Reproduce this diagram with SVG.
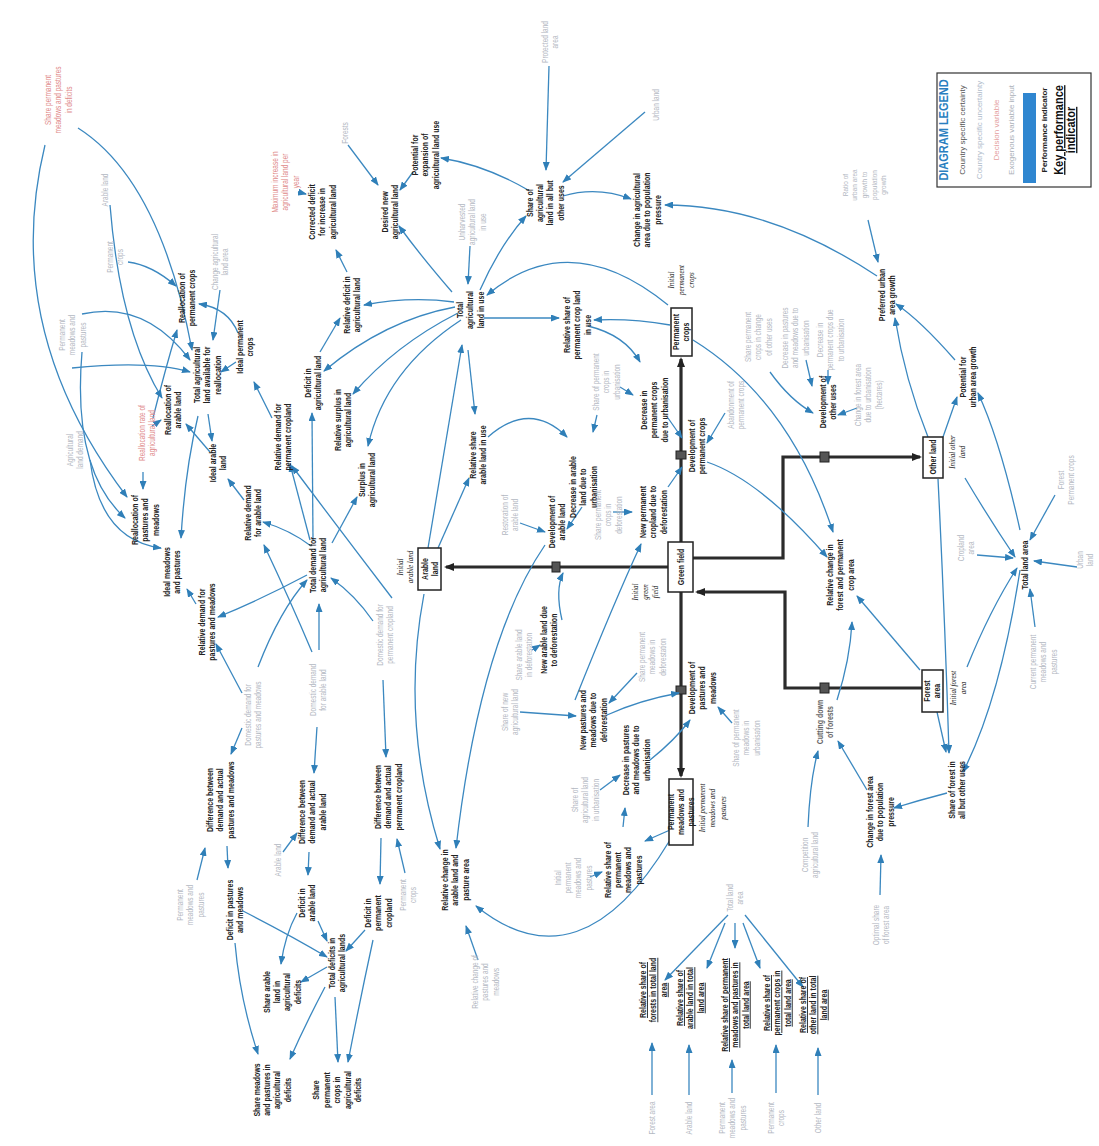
<svg xmlns="http://www.w3.org/2000/svg" width="1099" height="1146" viewBox="0 0 1099 1146">
<style>
text{text-anchor:middle;font-family:"Liberation Sans",Arial,sans-serif}
.b{font-size:7px;font-weight:bold;fill:#222}
.g{font-size:6.5px;fill:#b3b8c2}
.r{font-size:6.5px;fill:#e08a8a}
.i{font-size:7px;font-style:italic;font-family:"Liberation Serif",serif;fill:#222}
.k{font-size:7px;font-weight:bold;fill:#222;text-decoration:underline}
.c{fill:none;stroke:#3b88c0;stroke-width:1.3;marker-end:url(#a)}
.s{fill:none;stroke:#2b2b2b;stroke-width:3.2}
.sa{marker-end:url(#ab)}
.box{fill:#fff;stroke:#222;stroke-width:1.5}
.v{fill:#555;stroke:#222;stroke-width:1}
</style>
<defs>
<marker id="a" markerUnits="userSpaceOnUse" markerWidth="9" markerHeight="7" refX="8" refY="3.5" orient="auto"><path d="M0,0 L9,3.5 L0,7 z" fill="#2f7fb8"/></marker>
<marker id="ab" markerUnits="userSpaceOnUse" markerWidth="10" markerHeight="8" refX="8" refY="4" orient="auto"><path d="M0,0 L10,4 L0,8 z" fill="#222"/></marker>
</defs>
<rect width="1099" height="1146" fill="#fff"/>

<g id="flows">
<path class="s sa" d="M668 567 L446 567"/>
<path class="s sa" d="M681 542 L681 359"/>
<path class="s sa" d="M681 592 L681 776"/>
<path class="s sa" d="M693 558 L783 558 L783 457 L920 457"/>
<path class="s sa" d="M922 688 L785 688 L785 592 L697 592"/>
<rect class="v" x="552" y="562" width="8" height="10"/>
<rect class="v" x="676" y="451" width="10" height="8"/>
<rect class="v" x="676" y="686" width="10" height="8"/>
<rect class="v" x="820" y="452" width="9" height="10"/>
<rect class="v" x="820" y="683" width="9" height="10"/>
</g>

<g id="connectors">
<path class="c" d="M528 190 Q485 165 441 158"/>
<path class="c" d="M413 172 L400 190"/>
<path class="c" d="M452 292 Q420 255 399 226"/>
<path class="c" d="M470 246 L468 284"/>
<path class="c" d="M480 290 Q500 245 526 216"/>
<path class="c" d="M549 66 L546 170"/>
<path class="c" d="M645 112 L563 182"/>
<path class="c" d="M563 196 Q597 186 631 199"/>
<path class="c" d="M877 276 Q770 205 665 205"/>
<path class="c" d="M348 145 L378 185"/>
<path class="c" d="M298 192 L306 194"/>
<path class="c" d="M347 272 L336 250"/>
<path class="c" d="M454 302 Q410 296 364 305"/>
<path class="c" d="M455 307 Q385 320 324 371"/>
<path class="c" d="M458 313 Q395 345 353 394"/>
<path class="c" d="M461 320 Q385 370 368 446"/>
<path class="c" d="M320 352 L340 318"/>
<path class="c" d="M313 540 L312 413"/>
<path class="c" d="M332 543 L357 497"/>
<path class="c" d="M311 546 Q290 530 263 522"/>
<path class="c" d="M310 540 L290 464"/>
<path class="c" d="M272 418 L254 382"/>
<path class="c" d="M244 500 L228 479"/>
<path class="c" d="M196 604 L187 589"/>
<path class="c" d="M307 575 Q260 600 218 617"/>
<path class="c" d="M242 693 L216 644"/>
<path class="c" d="M258 667 Q280 610 307 580"/>
<path class="c" d="M319 650 L319 604"/>
<path class="c" d="M373 621 Q355 595 331 578"/>
<path class="c" d="M312 652 Q290 600 264 545"/>
<path class="c" d="M392 598 Q340 530 292 466"/>
<path class="c" d="M242 728 L231 754"/>
<path class="c" d="M317 727 L314 773"/>
<path class="c" d="M383 680 L386 757"/>
<path class="c" d="M283 852 L297 833"/>
<path class="c" d="M197 880 L205 848"/>
<path class="c" d="M227 846 L228 868"/>
<path class="c" d="M309 852 L308 875"/>
<path class="c" d="M381 838 L380 884"/>
<path class="c" d="M405 873 L397 839"/>
<path class="c" d="M243 911 Q290 935 327 957"/>
<path class="c" d="M318 921 L327 941"/>
<path class="c" d="M365 930 L346 951"/>
<path class="c" d="M297 913 Q285 935 281 964"/>
<path class="c" d="M327 967 L301 982"/>
<path class="c" d="M325 987 Q305 1025 290 1059"/>
<path class="c" d="M335 997 L338 1062"/>
<path class="c" d="M373 940 Q360 1000 348 1062"/>
<path class="c" d="M235 943 Q240 1000 258 1054"/>
<path class="c" d="M478 960 L466 926"/>
<path class="c" d="M670 840 Q580 990 476 906"/>
<path class="c" d="M424 594 Q400 720 440 849"/>
<path class="c" d="M545 545 Q480 640 456 848"/>
<path class="c" d="M428 548 L462 345"/>
<path class="c" d="M438 548 L469 478"/>
<path class="c" d="M468 350 L475 414"/>
<path class="c" d="M484 318 L559 318"/>
<path class="c" d="M670 325 Q630 318 594 320"/>
<path class="c" d="M668 305 Q570 225 487 295"/>
<path class="c" d="M488 437 Q530 400 567 437"/>
<path class="c" d="M597 415 L593 432"/>
<path class="c" d="M588 326 Q625 335 640 362"/>
<path class="c" d="M620 387 L633 395"/>
<path class="c" d="M668 418 L682 438"/>
<path class="c" d="M668 487 L682 467"/>
<path class="c" d="M725 413 L707 443"/>
<path class="c" d="M707 462 Q760 480 827 557"/>
<path class="c" d="M693 340 Q790 400 833 532"/>
<path class="c" d="M806 360 L812 386"/>
<path class="c" d="M828 370 L828 384"/>
<path class="c" d="M770 372 Q790 400 813 413"/>
<path class="c" d="M857 408 L838 415"/>
<path class="c" d="M868 220 L878 262"/>
<path class="c" d="M928 437 Q905 380 895 318"/>
<path class="c" d="M955 360 Q920 320 896 304"/>
<path class="c" d="M943 437 L957 397"/>
<path class="c" d="M1020 530 Q1000 440 978 393"/>
<path class="c" d="M965 478 Q990 520 1015 557"/>
<path class="c" d="M977 555 L1013 558"/>
<path class="c" d="M1055 495 L1030 540"/>
<path class="c" d="M1077 567 L1034 561"/>
<path class="c" d="M1035 627 L1030 589"/>
<path class="c" d="M1020 570 Q1000 700 963 772"/>
<path class="c" d="M967 667 Q990 610 1017 568"/>
<path class="c" d="M938 479 Q945 620 949 753"/>
<path class="c" d="M937 712 L946 752"/>
<path class="c" d="M947 793 Q920 800 894 808"/>
<path class="c" d="M867 790 L838 741"/>
<path class="c" d="M808 827 Q810 780 818 751"/>
<path class="c" d="M837 700 Q850 660 852 622"/>
<path class="c" d="M920 670 L857 596"/>
<path class="c" d="M880 895 L881 855"/>
<path class="c" d="M637 673 L609 703"/>
<path class="c" d="M607 715 Q640 700 679 693"/>
<path class="c" d="M650 760 Q675 740 690 720"/>
<path class="c" d="M732 723 L718 707"/>
<path class="c" d="M600 790 L620 775"/>
<path class="c" d="M623 827 L625 808"/>
<path class="c" d="M670 830 L645 841"/>
<path class="c" d="M590 877 L602 872"/>
<path class="c" d="M562 620 Q555 590 563 573"/>
<path class="c" d="M582 507 L567 529"/>
<path class="c" d="M520 523 L545 532"/>
<path class="c" d="M575 700 Q615 600 641 544"/>
<path class="c" d="M613 512 L632 512"/>
<path class="c" d="M532 650 L540 645"/>
<path class="c" d="M520 712 L576 716"/>
<path class="c" d="M728 915 L665 980"/>
<path class="c" d="M725 923 L707 968"/>
<path class="c" d="M735 923 L735 948"/>
<path class="c" d="M743 923 L760 968"/>
<path class="c" d="M745 915 L803 987"/>
<path class="c" d="M652 1095 L652 1043"/>
<path class="c" d="M689 1095 L689 1045"/>
<path class="c" d="M732 1093 L732 1060"/>
<path class="c" d="M776 1093 L776 1045"/>
<path class="c" d="M818 1095 L818 1048"/>
<!-- left side -->
<path class="c" d="M128 262 Q152 265 176 286"/>
<path class="c" d="M220 290 L213 340"/>
<path class="c" d="M238 333 Q228 308 199 304"/>
<path class="c" d="M236 362 L221 372"/>
<path class="c" d="M208 414 L212 441"/>
<path class="c" d="M210 452 L186 424"/>
<path class="c" d="M198 416 Q185 470 181 538"/>
<path class="c" d="M153 418 Q165 370 177 330"/>
<path class="c" d="M152 426 L161 420"/>
<path class="c" d="M143 472 L143 489"/>
<path class="c" d="M78 128 Q160 180 192 350"/>
<path class="c" d="M45 145 Q0 330 127 497"/>
<path class="c" d="M110 205 Q120 330 162 398"/>
<path class="c" d="M82 352 Q72 470 125 518"/>
<path class="c" d="M82 314 Q145 300 190 360"/>
<path class="c" d="M72 368 Q150 360 190 372"/>
<path class="c" d="M90 460 Q100 540 161 548"/>
</g>

<g id="s-green"><rect class="box" x="668" y="542" width="25" height="50"/><g transform="translate(681 567) rotate(-90) scale(1 1.3)"><text class="b"><tspan x="0" y="2.5">Green field</tspan></text></g></g>
<g id="s-arable"><rect class="box" x="418" y="548" width="23" height="42"/><g transform="translate(430 569) rotate(-90) scale(1 1.3)"><text class="b"><tspan x="0" y="-1.5">Arable</tspan><tspan x="0" y="6.5">land</tspan></text></g></g>
<g id="s-perm"><rect class="box" x="671" y="308" width="21" height="48"/><g transform="translate(681 332) rotate(-90) scale(1 1.2)"><text class="b"><tspan x="0" y="-1.5">Permanent</tspan><tspan x="0" y="6.5">crops</tspan></text></g></g>
<g id="s-past"><rect class="box" x="669" y="779" width="24" height="66"/><g transform="translate(681 812) rotate(-90) scale(1 1.2)"><text class="b"><tspan x="0" y="-5.5">Permanent</tspan><tspan x="0" y="2.5">meadows and</tspan><tspan x="0" y="10.5">pastures</tspan></text></g></g>
<g id="s-other"><rect class="box" x="923" y="437" width="20" height="41"/><g transform="translate(933 457) rotate(-90) scale(1 1.3)"><text class="b"><tspan x="0" y="2.5">Other land</tspan></text></g></g>
<g id="s-forest"><rect class="box" x="922" y="670" width="21" height="42"/><g transform="translate(932 691) rotate(-90) scale(1 1.2)"><text class="b"><tspan x="0" y="-1.5">Forest</tspan><tspan x="0" y="6.5">area</tspan></text></g></g>

<g id="i-arable" transform="translate(405 567) rotate(-90) scale(1 1.3)"><text class="i"><tspan x="0" y="-1.5">Initial</tspan><tspan x="0" y="6.5">arable land</tspan></text></g>
<g id="i-green" transform="translate(645 592) rotate(-90) scale(1 1.2)"><text class="i"><tspan x="0" y="-5.5">Initial</tspan><tspan x="0" y="2.5">green</tspan><tspan x="0" y="10.5">field</tspan></text></g>
<g id="i-perm" transform="translate(681 280) rotate(-90) scale(1 1.2)"><text class="i"><tspan x="0" y="-5.5">Initial</tspan><tspan x="0" y="2.5">permanent</tspan><tspan x="0" y="10.5">crops</tspan></text></g>
<g id="i-past" transform="translate(712 808) rotate(-90) scale(1 1.3)"><text class="i"><tspan x="0" y="-5.5">Initial permanent</tspan><tspan x="0" y="2.5">meadows and</tspan><tspan x="0" y="10.5">pastures</tspan></text></g>
<g id="i-other" transform="translate(957 452) rotate(-90) scale(1 1.3)"><text class="i"><tspan x="0" y="-1.5">Initial other</tspan><tspan x="0" y="6.5">land</tspan></text></g>
<g id="i-forest" transform="translate(958 688) rotate(-90) scale(1 1.3)"><text class="i"><tspan x="0" y="-1.5">Initial forest</tspan><tspan x="0" y="6.5">area</tspan></text></g>

<g id="n-pot-exp" transform="translate(425 155) rotate(-90) scale(1 1.3)"><text class="b"><tspan x="0" y="-5.5">Potential for</tspan><tspan x="0" y="2.5">expansion of</tspan><tspan x="0" y="10.5">agricultural land use</tspan></text></g>
<g id="n-desired" transform="translate(390 212) rotate(-90) scale(1 1.3)"><text class="b"><tspan x="0" y="-1.5">Desired new</tspan><tspan x="0" y="6.5">agricultural land</tspan></text></g>
<g id="n-corrected" transform="translate(322 212) rotate(-90) scale(1 1.3)"><text class="b"><tspan x="0" y="-5.5">Corrected deficit</tspan><tspan x="0" y="2.5">for increase in</tspan><tspan x="0" y="10.5">agricultural land</tspan></text></g>
<g id="n-share-agri" transform="translate(545 203) rotate(-90) scale(1 1.3)"><text class="b"><tspan x="0" y="-9.5">Share of</tspan><tspan x="0" y="-1.5">agricultural</tspan><tspan x="0" y="6.5">land in all but</tspan><tspan x="0" y="14.5">other uses</tspan></text></g>
<g id="n-change-agri" transform="translate(647 210) rotate(-90) scale(1 1.3)"><text class="b"><tspan x="0" y="-5.5">Change in agricultural</tspan><tspan x="0" y="2.5">area due to population</tspan><tspan x="0" y="10.5">pressure</tspan></text></g>
<g id="n-total-agri" transform="translate(470 310) rotate(-90) scale(1 1.3)"><text class="b"><tspan x="0" y="-5.5">Total</tspan><tspan x="0" y="2.5">agricultural</tspan><tspan x="0" y="10.5">land in use</tspan></text></g>
<g id="n-rel-share-perm" transform="translate(577 325) rotate(-90) scale(1 1.3)"><text class="b"><tspan x="0" y="-5.5">Relative share of</tspan><tspan x="0" y="2.5">permanent crop land</tspan><tspan x="0" y="10.5">in use</tspan></text></g>
<g id="n-rel-share-arable" transform="translate(478 455) rotate(-90) scale(1 1.3)"><text class="b"><tspan x="0" y="-1.5">Relative share</tspan><tspan x="0" y="6.5">arable land in use</tspan></text></g>
<g id="n-decr-arable" transform="translate(583 487) rotate(-90) scale(1 1.3)"><text class="b"><tspan x="0" y="-5.5">Decrease in arable</tspan><tspan x="0" y="2.5">land due to</tspan><tspan x="0" y="10.5">urbanisation</tspan></text></g>
<g id="n-dev-arable" transform="translate(557 522) rotate(-90) scale(1 1.3)"><text class="b"><tspan x="0" y="-1.5">Development of</tspan><tspan x="0" y="6.5">arable land</tspan></text></g>
<g id="n-decr-perm" transform="translate(654 410) rotate(-90) scale(1 1.3)"><text class="b"><tspan x="0" y="-5.5">Decrease in</tspan><tspan x="0" y="2.5">permanent crops</tspan><tspan x="0" y="10.5">due to urbanisation</tspan></text></g>
<g id="n-dev-perm" transform="translate(697 446) rotate(-90) scale(1 1.3)"><text class="b"><tspan x="0" y="-1.5">Development of</tspan><tspan x="0" y="6.5">permanent crops</tspan></text></g>
<g id="n-new-perm" transform="translate(653 512) rotate(-90) scale(1 1.3)"><text class="b"><tspan x="0" y="-5.5">New permanent</tspan><tspan x="0" y="2.5">cropland due to</tspan><tspan x="0" y="10.5">deforestation</tspan></text></g>
<g id="n-dev-other" transform="translate(828 402) rotate(-90) scale(1 1.3)"><text class="b"><tspan x="0" y="-1.5">Development of</tspan><tspan x="0" y="6.5">other uses</tspan></text></g>
<g id="n-pref-urban" transform="translate(887 295) rotate(-90) scale(1 1.3)"><text class="b"><tspan x="0" y="-1.5">Preferred urban</tspan><tspan x="0" y="6.5">area growth</tspan></text></g>
<g id="n-pot-urban" transform="translate(968 377) rotate(-90) scale(1 1.3)"><text class="b"><tspan x="0" y="-1.5">Potential for</tspan><tspan x="0" y="6.5">urban area growth</tspan></text></g>
<g id="n-total-land" transform="translate(1025 565) rotate(-90) scale(1 1.3)"><text class="b"><tspan x="0" y="2.5">Total land area</tspan></text></g>
<g id="n-rel-change-forest" transform="translate(840 575) rotate(-90) scale(1 1.3)"><text class="b"><tspan x="0" y="-5.5">Relative change in</tspan><tspan x="0" y="2.5">forest and permanent</tspan><tspan x="0" y="10.5">crop area</tspan></text></g>
<g id="n-cutting" transform="translate(825 722) rotate(-90) scale(1 1.3)"><text class="b" style="fill:#666"><tspan x="0" y="-1.5">Cutting down</tspan><tspan x="0" y="6.5">of forests</tspan></text></g>
<g id="n-share-forest" transform="translate(957 790) rotate(-90) scale(1 1.3)"><text class="b"><tspan x="0" y="-1.5">Share of forest in</tspan><tspan x="0" y="6.5">all but other uses</tspan></text></g>
<g id="n-change-forest" transform="translate(880 812) rotate(-90) scale(1 1.3)"><text class="b"><tspan x="0" y="-5.5">Change in forest area</tspan><tspan x="0" y="2.5">due to population</tspan><tspan x="0" y="10.5">pressure</tspan></text></g>
<g id="n-dev-past" transform="translate(702 688) rotate(-90) scale(1 1.3)"><text class="b"><tspan x="0" y="-5.5">Development of</tspan><tspan x="0" y="2.5">pastures and</tspan><tspan x="0" y="10.5">meadows</tspan></text></g>
<g id="n-decr-past" transform="translate(636 760) rotate(-90) scale(1 1.3)"><text class="b"><tspan x="0" y="-5.5">Decrease in pastures</tspan><tspan x="0" y="2.5">and meadows due to</tspan><tspan x="0" y="10.5">urbanisation</tspan></text></g>
<g id="n-new-past" transform="translate(593 720) rotate(-90) scale(1 1.3)"><text class="b"><tspan x="0" y="-5.5">New pastures and</tspan><tspan x="0" y="2.5">meadows due to</tspan><tspan x="0" y="10.5">deforestation</tspan></text></g>
<g id="n-new-arable" transform="translate(549 640) rotate(-90) scale(1 1.3)"><text class="b"><tspan x="0" y="-1.5">New arable land due</tspan><tspan x="0" y="6.5">to deforestation</tspan></text></g>
<g id="n-rel-share-past" transform="translate(623 870) rotate(-90) scale(1 1.3)"><text class="b"><tspan x="0" y="-9.5">Relative share of</tspan><tspan x="0" y="-1.5">permanent</tspan><tspan x="0" y="6.5">meadows and</tspan><tspan x="0" y="14.5">pastures</tspan></text></g>
<g id="n-rel-change-arable" transform="translate(455 880) rotate(-90) scale(1 1.3)"><text class="b"><tspan x="0" y="-5.5">Relative change in</tspan><tspan x="0" y="2.5">arable land and</tspan><tspan x="0" y="10.5">pasture area</tspan></text></g>
<g id="n-def-past" transform="translate(235 910) rotate(-90) scale(1 1.3)"><text class="b"><tspan x="0" y="-1.5">Deficit in pastures</tspan><tspan x="0" y="6.5">and meadows</tspan></text></g>
<g id="n-def-arable" transform="translate(307 903) rotate(-90) scale(1 1.3)"><text class="b"><tspan x="0" y="-1.5">Deficit in</tspan><tspan x="0" y="6.5">arable land</tspan></text></g>
<g id="n-def-perm" transform="translate(378 913) rotate(-90) scale(1 1.3)"><text class="b"><tspan x="0" y="-5.5">Deficit in</tspan><tspan x="0" y="2.5">permanent</tspan><tspan x="0" y="10.5">cropland</tspan></text></g>
<g id="n-total-def" transform="translate(337 963) rotate(-90) scale(1 1.3)"><text class="b"><tspan x="0" y="-1.5">Total deficits in</tspan><tspan x="0" y="6.5">agricultural lands</tspan></text></g>
<g id="n-share-arable-def" transform="translate(282 992) rotate(-90) scale(1 1.3)"><text class="b"><tspan x="0" y="-9.5">Share arable</tspan><tspan x="0" y="-1.5">land in</tspan><tspan x="0" y="6.5">agricultural</tspan><tspan x="0" y="14.5">deficits</tspan></text></g>
<g id="n-share-past-def" transform="translate(272 1090) rotate(-90) scale(1 1.3)"><text class="b"><tspan x="0" y="-9.5">Share meadows</tspan><tspan x="0" y="-1.5">and pastures in</tspan><tspan x="0" y="6.5">agricultural</tspan><tspan x="0" y="14.5">deficits</tspan></text></g>
<g id="n-share-perm-def" transform="translate(337 1090) rotate(-90) scale(1 1.3)"><text class="b"><tspan x="0" y="-13.5">Share</tspan><tspan x="0" y="-5.5">permanent</tspan><tspan x="0" y="2.5">crops in</tspan><tspan x="0" y="10.5">agricultural</tspan><tspan x="0" y="18.5">deficits</tspan></text></g>
<g id="n-diff-past" transform="translate(220 800) rotate(-90) scale(1 1.3)"><text class="b"><tspan x="0" y="-5.5">Difference between</tspan><tspan x="0" y="2.5">demand and actual</tspan><tspan x="0" y="10.5">pastures and meadows</tspan></text></g>
<g id="n-diff-arable" transform="translate(312 812) rotate(-90) scale(1 1.3)"><text class="b"><tspan x="0" y="-5.5">Difference between</tspan><tspan x="0" y="2.5">demand and actual</tspan><tspan x="0" y="10.5">arable land</tspan></text></g>
<g id="n-diff-perm" transform="translate(388 797) rotate(-90) scale(1 1.3)"><text class="b"><tspan x="0" y="-5.5">Difference between</tspan><tspan x="0" y="2.5">demand and actual</tspan><tspan x="0" y="10.5">permanent cropland</tspan></text></g>
<g id="n-rel-dem-past" transform="translate(207 622) rotate(-90) scale(1 1.3)"><text class="b"><tspan x="0" y="-1.5">Relative demand for</tspan><tspan x="0" y="6.5">pastures and meadows</tspan></text></g>
<g id="n-ideal-past" transform="translate(172 572) rotate(-90) scale(1 1.3)"><text class="b"><tspan x="0" y="-1.5">Ideal meadows</tspan><tspan x="0" y="6.5">and pastures</tspan></text></g>
<g id="n-total-demand" transform="translate(318 565) rotate(-90) scale(1 1.3)"><text class="b"><tspan x="0" y="-1.5">Total demand for</tspan><tspan x="0" y="6.5">agricultural land</tspan></text></g>
<g id="n-rel-dem-arable" transform="translate(253 513) rotate(-90) scale(1 1.3)"><text class="b"><tspan x="0" y="-1.5">Relative demand</tspan><tspan x="0" y="6.5">for arable land</tspan></text></g>
<g id="n-rel-dem-perm" transform="translate(283 437) rotate(-90) scale(1 1.3)"><text class="b"><tspan x="0" y="-1.5">Relative demand for</tspan><tspan x="0" y="6.5">permanent cropland</tspan></text></g>
<g id="n-ideal-arable" transform="translate(218 463) rotate(-90) scale(1 1.3)"><text class="b"><tspan x="0" y="-1.5">Ideal arable</tspan><tspan x="0" y="6.5">land</tspan></text></g>
<g id="n-realloc-past" transform="translate(145 520) rotate(-90) scale(1 1.3)"><text class="b"><tspan x="0" y="-5.5">Reallocation of</tspan><tspan x="0" y="2.5">pastures and</tspan><tspan x="0" y="10.5">meadows</tspan></text></g>
<g id="n-realloc-arable" transform="translate(173 410) rotate(-90) scale(1 1.3)"><text class="b"><tspan x="0" y="-1.5">Reallocation of</tspan><tspan x="0" y="6.5">arable land</tspan></text></g>
<g id="n-total-avail" transform="translate(207 375) rotate(-90) scale(1 1.3)"><text class="b"><tspan x="0" y="-5.5">Total agricultural</tspan><tspan x="0" y="2.5">land available for</tspan><tspan x="0" y="10.5">reallocation</tspan></text></g>
<g id="n-ideal-perm" transform="translate(245 347) rotate(-90) scale(1 1.3)"><text class="b"><tspan x="0" y="-1.5">Ideal permanent</tspan><tspan x="0" y="6.5">crops</tspan></text></g>
<g id="n-realloc-perm" transform="translate(187 298) rotate(-90) scale(1 1.3)"><text class="b"><tspan x="0" y="-1.5">Reallocation of</tspan><tspan x="0" y="6.5">permanent crops</tspan></text></g>
<g id="n-def-agri" transform="translate(313 383) rotate(-90) scale(1 1.3)"><text class="b"><tspan x="0" y="-1.5">Deficit in</tspan><tspan x="0" y="6.5">agricultural land</tspan></text></g>
<g id="n-rel-def-agri" transform="translate(352 305) rotate(-90) scale(1 1.3)"><text class="b"><tspan x="0" y="-1.5">Relative deficit in</tspan><tspan x="0" y="6.5">agricultural land</tspan></text></g>
<g id="n-rel-surplus" transform="translate(343 420) rotate(-90) scale(1 1.3)"><text class="b"><tspan x="0" y="-1.5">Relative surplus in</tspan><tspan x="0" y="6.5">agricultural land</tspan></text></g>
<g id="n-surplus" transform="translate(367 480) rotate(-90) scale(1 1.3)"><text class="b"><tspan x="0" y="-1.5">Surplus in</tspan><tspan x="0" y="6.5">agricultural land</tspan></text></g>

<g id="k-forest" transform="translate(653 990) rotate(-90) scale(1 1.3)"><text class="k"><tspan x="0" y="-5.5">Relative share of</tspan><tspan x="0" y="2.5">forests in total land</tspan><tspan x="0" y="10.5">area</tspan></text></g>
<g id="k-arable" transform="translate(690 998) rotate(-90) scale(1 1.3)"><text class="k"><tspan x="0" y="-5.5">Relative share of</tspan><tspan x="0" y="2.5">arable land in total</tspan><tspan x="0" y="10.5">land area</tspan></text></g>
<g id="k-past" transform="translate(735 1005) rotate(-90) scale(1 1.3)"><text class="k"><tspan x="0" y="-5.5">Relative share of permanent</tspan><tspan x="0" y="2.5">meadows and pastures in</tspan><tspan x="0" y="10.5">total land area</tspan></text></g>
<g id="k-perm" transform="translate(777 1003) rotate(-90) scale(1 1.3)"><text class="k"><tspan x="0" y="-5.5">Relative share of</tspan><tspan x="0" y="2.5">permanent crops in</tspan><tspan x="0" y="10.5">total land area</tspan></text></g>
<g id="k-other" transform="translate(813 1005) rotate(-90) scale(1 1.3)"><text class="k"><tspan x="0" y="-5.5">Relative share of</tspan><tspan x="0" y="2.5">other land in total</tspan><tspan x="0" y="10.5">land area</tspan></text></g>

<g id="g-protected" transform="translate(550 42) rotate(-90) scale(1 1.3)"><text class="g"><tspan x="0" y="-1.5">Protected land</tspan><tspan x="0" y="6.5">area</tspan></text></g>
<g id="g-urban" transform="translate(656 105) rotate(-90) scale(1 1.3)"><text class="g"><tspan x="0" y="2.5">Urban land</tspan></text></g>
<g id="g-unharv" transform="translate(472 222) rotate(-90) scale(1 1.3)"><text class="g"><tspan x="0" y="-5.5">Unharvested</tspan><tspan x="0" y="2.5">agricultural land</tspan><tspan x="0" y="10.5">in use</tspan></text></g>
<g id="g-forests" transform="translate(345 133) rotate(-90) scale(1 1.3)"><text class="g"><tspan x="0" y="2.5">Forests</tspan></text></g>
<g id="g-share-perm-urb" transform="translate(606 382) rotate(-90) scale(1 1.3)"><text class="g"><tspan x="0" y="-5.5">Share of permanent</tspan><tspan x="0" y="2.5">crops in</tspan><tspan x="0" y="10.5">urbanisation</tspan></text></g>
<g id="g-restoration" transform="translate(510 515) rotate(-90) scale(1 1.3)"><text class="g"><tspan x="0" y="-1.5">Restoration of</tspan><tspan x="0" y="6.5">arable land</tspan></text></g>
<g id="g-share-perm-defor" transform="translate(608 515) rotate(-90) scale(1 1.3)"><text class="g"><tspan x="0" y="-5.5">Share permanent</tspan><tspan x="0" y="2.5">crops in</tspan><tspan x="0" y="10.5">deforestation</tspan></text></g>
<g id="g-share-arable-defor" transform="translate(524 655) rotate(-90) scale(1 1.3)"><text class="g"><tspan x="0" y="-1.5">Share arable land</tspan><tspan x="0" y="6.5">in deforestation</tspan></text></g>
<g id="g-share-new" transform="translate(510 712) rotate(-90) scale(1 1.3)"><text class="g"><tspan x="0" y="-1.5">Share of new</tspan><tspan x="0" y="6.5">agricultural land</tspan></text></g>
<g id="g-abandon" transform="translate(736 405) rotate(-90) scale(1 1.3)"><text class="g"><tspan x="0" y="-1.5">Abandonment of</tspan><tspan x="0" y="6.5">permanent crops</tspan></text></g>
<g id="g-share-other" transform="translate(758 337) rotate(-90) scale(1 1.3)"><text class="g"><tspan x="0" y="-5.5">Share permanent</tspan><tspan x="0" y="2.5">crops in change</tspan><tspan x="0" y="10.5">of other uses</tspan></text></g>
<g id="g-decr-past-urb" transform="translate(795 338) rotate(-90) scale(1 1.3)"><text class="g"><tspan x="0" y="-5.5">Decrease in pastures</tspan><tspan x="0" y="2.5">and meadows due to</tspan><tspan x="0" y="10.5">urbanisation</tspan></text></g>
<g id="g-decr-perm-urb" transform="translate(830 340) rotate(-90) scale(1 1.3)"><text class="g"><tspan x="0" y="-5.5">Decrease in</tspan><tspan x="0" y="2.5">permanent crops due</tspan><tspan x="0" y="10.5">to urbanisation</tspan></text></g>
<g id="g-forest-urb" transform="translate(868 395) rotate(-90) scale(1 1.3)"><text class="g"><tspan x="0" y="-5.5">Change in forest area</tspan><tspan x="0" y="2.5">due to urbanisation</tspan><tspan x="0" y="10.5">(hectares)</tspan></text></g>
<g id="g-ratio-urban" transform="translate(864 185) rotate(-90) scale(1 1.2)"><text class="g"><tspan x="0" y="-13.5">Ratio of</tspan><tspan x="0" y="-5.5">urban area</tspan><tspan x="0" y="2.5">growth to</tspan><tspan x="0" y="10.5">population</tspan><tspan x="0" y="18.5">growth</tspan></text></g>
<g id="g-cropland" transform="translate(966 548) rotate(-90) scale(1 1.3)"><text class="g"><tspan x="0" y="-1.5">Cropland</tspan><tspan x="0" y="6.5">area</tspan></text></g>
<g id="g-forest-perm" transform="translate(1066 480) rotate(-90) scale(1 1.3)"><text class="g"><tspan x="0" y="-1.5">Forest</tspan><tspan x="0" y="6.5">Permanent crops</tspan></text></g>
<g id="g-urban-land" transform="translate(1085 560) rotate(-90) scale(1 1.3)"><text class="g"><tspan x="0" y="-1.5">Urban</tspan><tspan x="0" y="6.5">land</tspan></text></g>
<g id="g-current-past" transform="translate(1043 662) rotate(-90) scale(1 1.3)"><text class="g"><tspan x="0" y="-5.5">Current permanent</tspan><tspan x="0" y="2.5">meadows and</tspan><tspan x="0" y="10.5">pastures</tspan></text></g>
<g id="g-competition" transform="translate(810 855) rotate(-90) scale(1 1.3)"><text class="g"><tspan x="0" y="-1.5">Competition</tspan><tspan x="0" y="6.5">agricultural land</tspan></text></g>
<g id="g-optimal-forest" transform="translate(881 925) rotate(-90) scale(1 1.3)"><text class="g"><tspan x="0" y="-1.5">Optimal share</tspan><tspan x="0" y="6.5">of forest area</tspan></text></g>
<g id="g-share-past-defor" transform="translate(652 657) rotate(-90) scale(1 1.3)"><text class="g"><tspan x="0" y="-5.5">Share permanent</tspan><tspan x="0" y="2.5">meadows in</tspan><tspan x="0" y="10.5">deforestation</tspan></text></g>
<g id="g-share-past-urb" transform="translate(746 738) rotate(-90) scale(1 1.3)"><text class="g"><tspan x="0" y="-5.5">Share of permanent</tspan><tspan x="0" y="2.5">meadows in</tspan><tspan x="0" y="10.5">urbanisation</tspan></text></g>
<g id="g-share-urb" transform="translate(585 800) rotate(-90) scale(1 1.3)"><text class="g"><tspan x="0" y="-5.5">Share of</tspan><tspan x="0" y="2.5">agricultural land</tspan><tspan x="0" y="10.5">in urbanisation</tspan></text></g>
<g id="g-init-past" transform="translate(573 878) rotate(-90) scale(1 1.3)"><text class="g"><tspan x="0" y="-9.5">Initial</tspan><tspan x="0" y="-1.5">permanent</tspan><tspan x="0" y="6.5">meadows and</tspan><tspan x="0" y="14.5">pastures</tspan></text></g>
<g id="g-total-land" transform="translate(735 898) rotate(-90) scale(1 1.3)"><text class="g"><tspan x="0" y="-1.5">Total land</tspan><tspan x="0" y="6.5">area</tspan></text></g>
<g id="g-b-forest" transform="translate(652 1118) rotate(-90) scale(1 1.3)"><text class="g"><tspan x="0" y="2.5">Forest area</tspan></text></g>
<g id="g-b-arable" transform="translate(689 1118) rotate(-90) scale(1 1.3)"><text class="g"><tspan x="0" y="2.5">Arable land</tspan></text></g>
<g id="g-b-past" transform="translate(732 1118) rotate(-90) scale(1 1.3)"><text class="g"><tspan x="0" y="-5.5">Permanent</tspan><tspan x="0" y="2.5">meadows and</tspan><tspan x="0" y="10.5">pastures</tspan></text></g>
<g id="g-b-perm" transform="translate(776 1118) rotate(-90) scale(1 1.3)"><text class="g"><tspan x="0" y="-1.5">Permanent</tspan><tspan x="0" y="6.5">crops</tspan></text></g>
<g id="g-b-other" transform="translate(818 1118) rotate(-90) scale(1 1.3)"><text class="g"><tspan x="0" y="2.5">Other land</tspan></text></g>
<g id="g-rel-change-past" transform="translate(485 982) rotate(-90) scale(1 1.3)"><text class="g"><tspan x="0" y="-5.5">Relative change of</tspan><tspan x="0" y="2.5">pastures and</tspan><tspan x="0" y="10.5">meadows</tspan></text></g>
<g id="g-perm-past" transform="translate(190 905) rotate(-90) scale(1 1.3)"><text class="g"><tspan x="0" y="-5.5">Permanent</tspan><tspan x="0" y="2.5">meadows and</tspan><tspan x="0" y="10.5">pastures</tspan></text></g>
<g id="g-arable-land" transform="translate(278 860) rotate(-90) scale(1 1.3)"><text class="g"><tspan x="0" y="2.5">Arable land</tspan></text></g>
<g id="g-perm-crops" transform="translate(408 895) rotate(-90) scale(1 1.3)"><text class="g"><tspan x="0" y="-1.5">Permanent</tspan><tspan x="0" y="6.5">crops</tspan></text></g>
<g id="g-dom-past" transform="translate(253 715) rotate(-90) scale(1 1.3)"><text class="g"><tspan x="0" y="-1.5">Domestic demand for</tspan><tspan x="0" y="6.5">pastures and meadows</tspan></text></g>
<g id="g-dom-arable" transform="translate(318 690) rotate(-90) scale(1 1.3)"><text class="g"><tspan x="0" y="-1.5">Domestic demand</tspan><tspan x="0" y="6.5">for arable land</tspan></text></g>
<g id="g-dom-perm" transform="translate(385 635) rotate(-90) scale(1 1.3)"><text class="g"><tspan x="0" y="-1.5">Domestic demand for</tspan><tspan x="0" y="6.5">permanent cropland</tspan></text></g>
<g id="g-perm-crops-left" transform="translate(115 257) rotate(-90) scale(1 1.3)"><text class="g"><tspan x="0" y="-1.5">Permanent</tspan><tspan x="0" y="6.5">crops</tspan></text></g>
<g id="g-change-agri" transform="translate(220 262) rotate(-90) scale(1 1.3)"><text class="g"><tspan x="0" y="-1.5">Change agricultural</tspan><tspan x="0" y="6.5">land area</tspan></text></g>
<g id="g-arable-left" transform="translate(105 190) rotate(-90) scale(1 1.3)"><text class="g"><tspan x="0" y="2.5">Arable land</tspan></text></g>
<g id="g-past-left" transform="translate(72 335) rotate(-90) scale(1 1.3)"><text class="g"><tspan x="0" y="-5.5">Permanent</tspan><tspan x="0" y="2.5">meadows and</tspan><tspan x="0" y="10.5">pastures</tspan></text></g>
<g id="g-left-low" transform="translate(75 450) rotate(-90) scale(1 1.3)"><text class="g"><tspan x="0" y="-1.5">Agricultural</tspan><tspan x="0" y="6.5">land demand</tspan></text></g>
<g id="r-max-inc" transform="translate(285 182) rotate(-90) scale(1 1.3)"><text class="r"><tspan x="0" y="-5.5">Maximum increase in</tspan><tspan x="0" y="2.5">agricultural land per</tspan><tspan x="0" y="10.5">year</tspan></text></g>
<g id="r-share-left" transform="translate(58 100) rotate(-90) scale(1 1.3)"><text class="r"><tspan x="0" y="-5.5">Share permanent</tspan><tspan x="0" y="2.5">meadows and pastures</tspan><tspan x="0" y="10.5">in deficits</tspan></text></g>
<g id="r-realloc-rate" transform="translate(147 433) rotate(-90) scale(1 1.3)"><text class="r"><tspan x="0" y="-1.5">Reallocation rate of</tspan><tspan x="0" y="6.5">agricultural land</tspan></text></g>

<g id="legend">
<rect x="937" y="73" width="154" height="114" fill="#fff" stroke="#333" stroke-width="1.2"/>
<g transform="translate(948 130) rotate(-90) scale(1 1.2)"><text style="font-size:11px;font-weight:bold;fill:#2a7fc0">DIAGRAM LEGEND</text></g>
<g transform="translate(965 130) rotate(-90)"><text style="font-size:8px;fill:#555">Country specific certainty</text></g>
<g transform="translate(982 130) rotate(-90)"><text style="font-size:8px;fill:#b0bccb">Country specific uncertainty</text></g>
<g transform="translate(999 130) rotate(-90)"><text style="font-size:8px;fill:#e4a0a0">Decision variable</text></g>
<g transform="translate(1014 130) rotate(-90)"><text style="font-size:8px;fill:#aab0b8">Exogenous variable input</text></g>
<rect x="1023" y="93" width="13" height="90" fill="#2f86d0"/>
<g transform="translate(1047 130) rotate(-90)"><text style="font-size:8px;font-weight:bold;fill:#222">Performance indicator</text></g>
<g transform="translate(1063 130) rotate(-90) scale(1 1.2)"><text style="font-size:11px;font-weight:bold;fill:#111;text-decoration:underline">Key performance</text></g>
<g transform="translate(1075 130) rotate(-90) scale(1 1.2)"><text style="font-size:11px;font-weight:bold;fill:#111;text-decoration:underline">indicator</text></g>
</g>
</svg>
